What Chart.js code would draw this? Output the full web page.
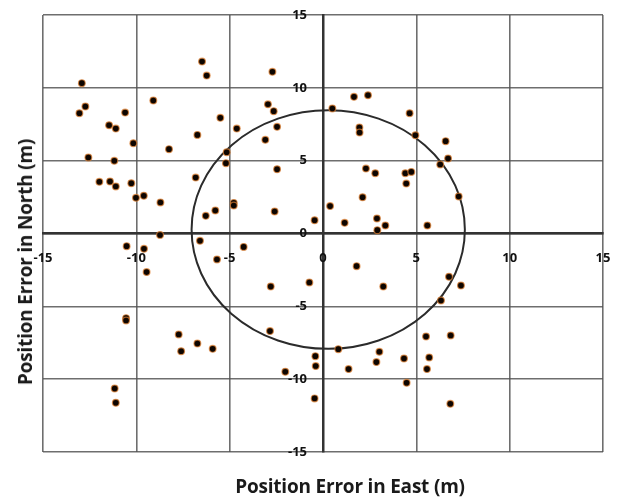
<!DOCTYPE html>
<html>
<head>
<meta charset="utf-8">
<script src="https://cdn.jsdelivr.net/npm/chart.js@4"></script>
<style>
  body { margin: 0; background: #fff; }
  #wrap { position: relative; width: 618px; height: 497px; }
  .ttl { position: absolute; font-family: "Open Sans", sans-serif; font-weight: bold; font-size: 19px; color: #1a1a1a; white-space: nowrap; letter-spacing: -0.2px; }
  #xt { left: 350px; top: 486px; transform: translate(-50%, -50%); }
  #yt { left: 25px; top: 262px; transform: translate(-50%, -50%) rotate(-90deg); }
</style>
</head>
<body>
<div id="wrap">
  <canvas id="errChart" width="618" height="497"></canvas>
  <div class="ttl" id="xt">Position Error in East (m)</div>
  <div class="ttl" id="yt">Position Error in North (m)</div>
</div>
<script>
// position errors (metres)
const eastErr = [
  -12.92, -12.73, -13.05, -10.6, -11.46, -11.1, -10.16, -12.57, -11.18, -11.98,
  -11.41, -11.1, -10.27, -10.02, -9.6, -8.71, -9.09, -8.25, -6.48, -6.23,
  -5.5, -4.62, -6.73, -6.82, -5.16, -5.2, -4.78, -4.78, -5.77, -6.28,
  -2.71, -2.95, -2.64, -2.46, -3.09, -2.46, -2.59, -0.45, 0.38, -8.73, -6.59,
  0.5, 1.66, 2.41, 4.64, 1.95, 1.96, 4.95, 6.57, 6.7, 6.28,
  2.3, 2.8, 4.41, 4.73, 4.46, 7.27, 2.12, 1.16, 2.89, 3.34, 2.91, 5.59,
  -10.52, -9.59, -9.45, -5.68, -4.25, -2.8, -0.73, -10.55, -10.55, -7.73,
  -7.6, -6.73, -5.91, -2.84, -0.41, -0.39, -2.02, -0.45, -11.16, -11.1,
  1.8, 3.23, 6.75, 7.39, 6.32, 5.52, 6.84, 0.82, 3.02, 4.34, 5.69, 2.86,
  1.37, 5.57, 4.48, 6.82
];
const northErr = [
  10.32, 8.72, 8.26, 8.3, 7.43, 7.2, 6.2, 5.22, 4.99, 3.55,
  3.57, 3.23, 3.45, 2.45, 2.59, 2.13, 9.13, 5.79, 11.8, 10.84,
  7.94, 7.2, 6.77, 3.84, 5.58, 4.83, 2.1, 1.92, 1.58, 1.21,
  11.1, 8.87, 8.4, 7.32, 6.43, 4.41, 1.51, 0.91, 1.88, -0.1, -0.5,
  8.58, 9.38, 9.49, 8.26, 7.28, 6.93, 6.75, 6.34, 5.15, 4.74,
  4.46, 4.14, 4.14, 4.23, 3.43, 2.54, 2.49, 0.73, 1.03, 0.55, 0.23, 0.55,
  -0.87, -1.05, -2.65, -1.78, -0.92, -3.64, -3.36, -5.81, -5.97, -6.93,
  -8.08, -7.55, -7.92, -6.7, -8.42, -9.1, -9.49, -11.32, -10.64, -11.62,
  -2.24, -3.64, -2.97, -3.57, -4.6, -7.07, -7.0, -7.94, -8.12, -8.58, -8.51, -8.83,
  -9.31, -9.31, -10.25, -11.69
];
const axisTicks = [-15, -10, -5, 0, 5, 10, 15];

// error circle: centre and half-widths in metres
const circleCentre = [0.28, 0.27];
const circleRadii = [7.32, 8.19];

const points = eastErr.map((x, i) => ({ x: x, y: northErr[i] }));

const errorCircle = {
  id: 'errorCircle',
  beforeDatasetsDraw(chart) {
    const { ctx, scales: { x, y } } = chart;
    const cx = x.getPixelForValue(circleCentre[0]);
    const cy = y.getPixelForValue(circleCentre[1]);
    const rx = Math.abs(x.getPixelForValue(circleCentre[0] + circleRadii[0]) - cx);
    const ry = Math.abs(y.getPixelForValue(circleCentre[1] + circleRadii[1]) - cy);
    ctx.save();
    ctx.beginPath();
    ctx.ellipse(cx, cy, rx, ry, 0, 0, Math.PI * 2);
    ctx.strokeStyle = '#2b2b2b';
    ctx.lineWidth = 2;
    ctx.stroke();
    ctx.restore();
  }
};

// tick labels sit beside the crossing axes, like the spreadsheet original
const crossLabels = {
  id: 'crossLabels',
  afterDraw(chart) {
    const { ctx, scales: { x, y } } = chart;
    const x0 = x.getPixelForValue(0);
    const y0 = y.getPixelForValue(0);
    ctx.save();
    ctx.font = 'bold 13px "Open Sans", sans-serif';
    ctx.fillStyle = '#111';
    ctx.textBaseline = 'middle';
    ctx.textAlign = 'center';
    axisTicks.forEach(v => ctx.fillText(String(v), x.getPixelForValue(v), y0 + 25));
    ctx.textAlign = 'right';
    axisTicks.forEach(v => ctx.fillText(String(v), x0 - 16, y.getPixelForValue(v)));
    ctx.restore();
  }
};

new Chart(document.getElementById('errChart'), {
  type: 'scatter',
  data: {
    datasets: [{
      data: points,
      backgroundColor: '#0d0500',
      borderColor: 'rgba(225,130,50,0.7)',
      borderWidth: 1.2,
      pointRadius: 3.4
    }]
  },
  options: {
    responsive: false,
    animation: false,
    layout: { padding: { left: 43, right: 15, top: 15, bottom: 45 } },
    plugins: { legend: { display: false }, tooltip: { enabled: false } },
    scales: {
      x: {
        type: 'linear',
        position: { y: 0 },
        min: -15, max: 15,
        afterBuildTicks: s => { s.ticks = axisTicks.map(v => ({ value: v })); },
        ticks: { display: false },
        grid: { color: 'rgba(85,85,85,0.85)', lineWidth: 1.6, drawTicks: false },
        border: { color: '#333', width: 2.5 }
      },
      y: {
        type: 'linear',
        position: { x: 0 },
        min: -15, max: 15,
        afterBuildTicks: s => { s.ticks = axisTicks.map(v => ({ value: v })); },
        ticks: { display: false },
        grid: { color: 'rgba(85,85,85,0.85)', lineWidth: 1.6, drawTicks: false },
        border: { color: '#333', width: 2.5 }
      }
    }
  },
  plugins: [errorCircle, crossLabels]
});
</script>
</body>
</html>
